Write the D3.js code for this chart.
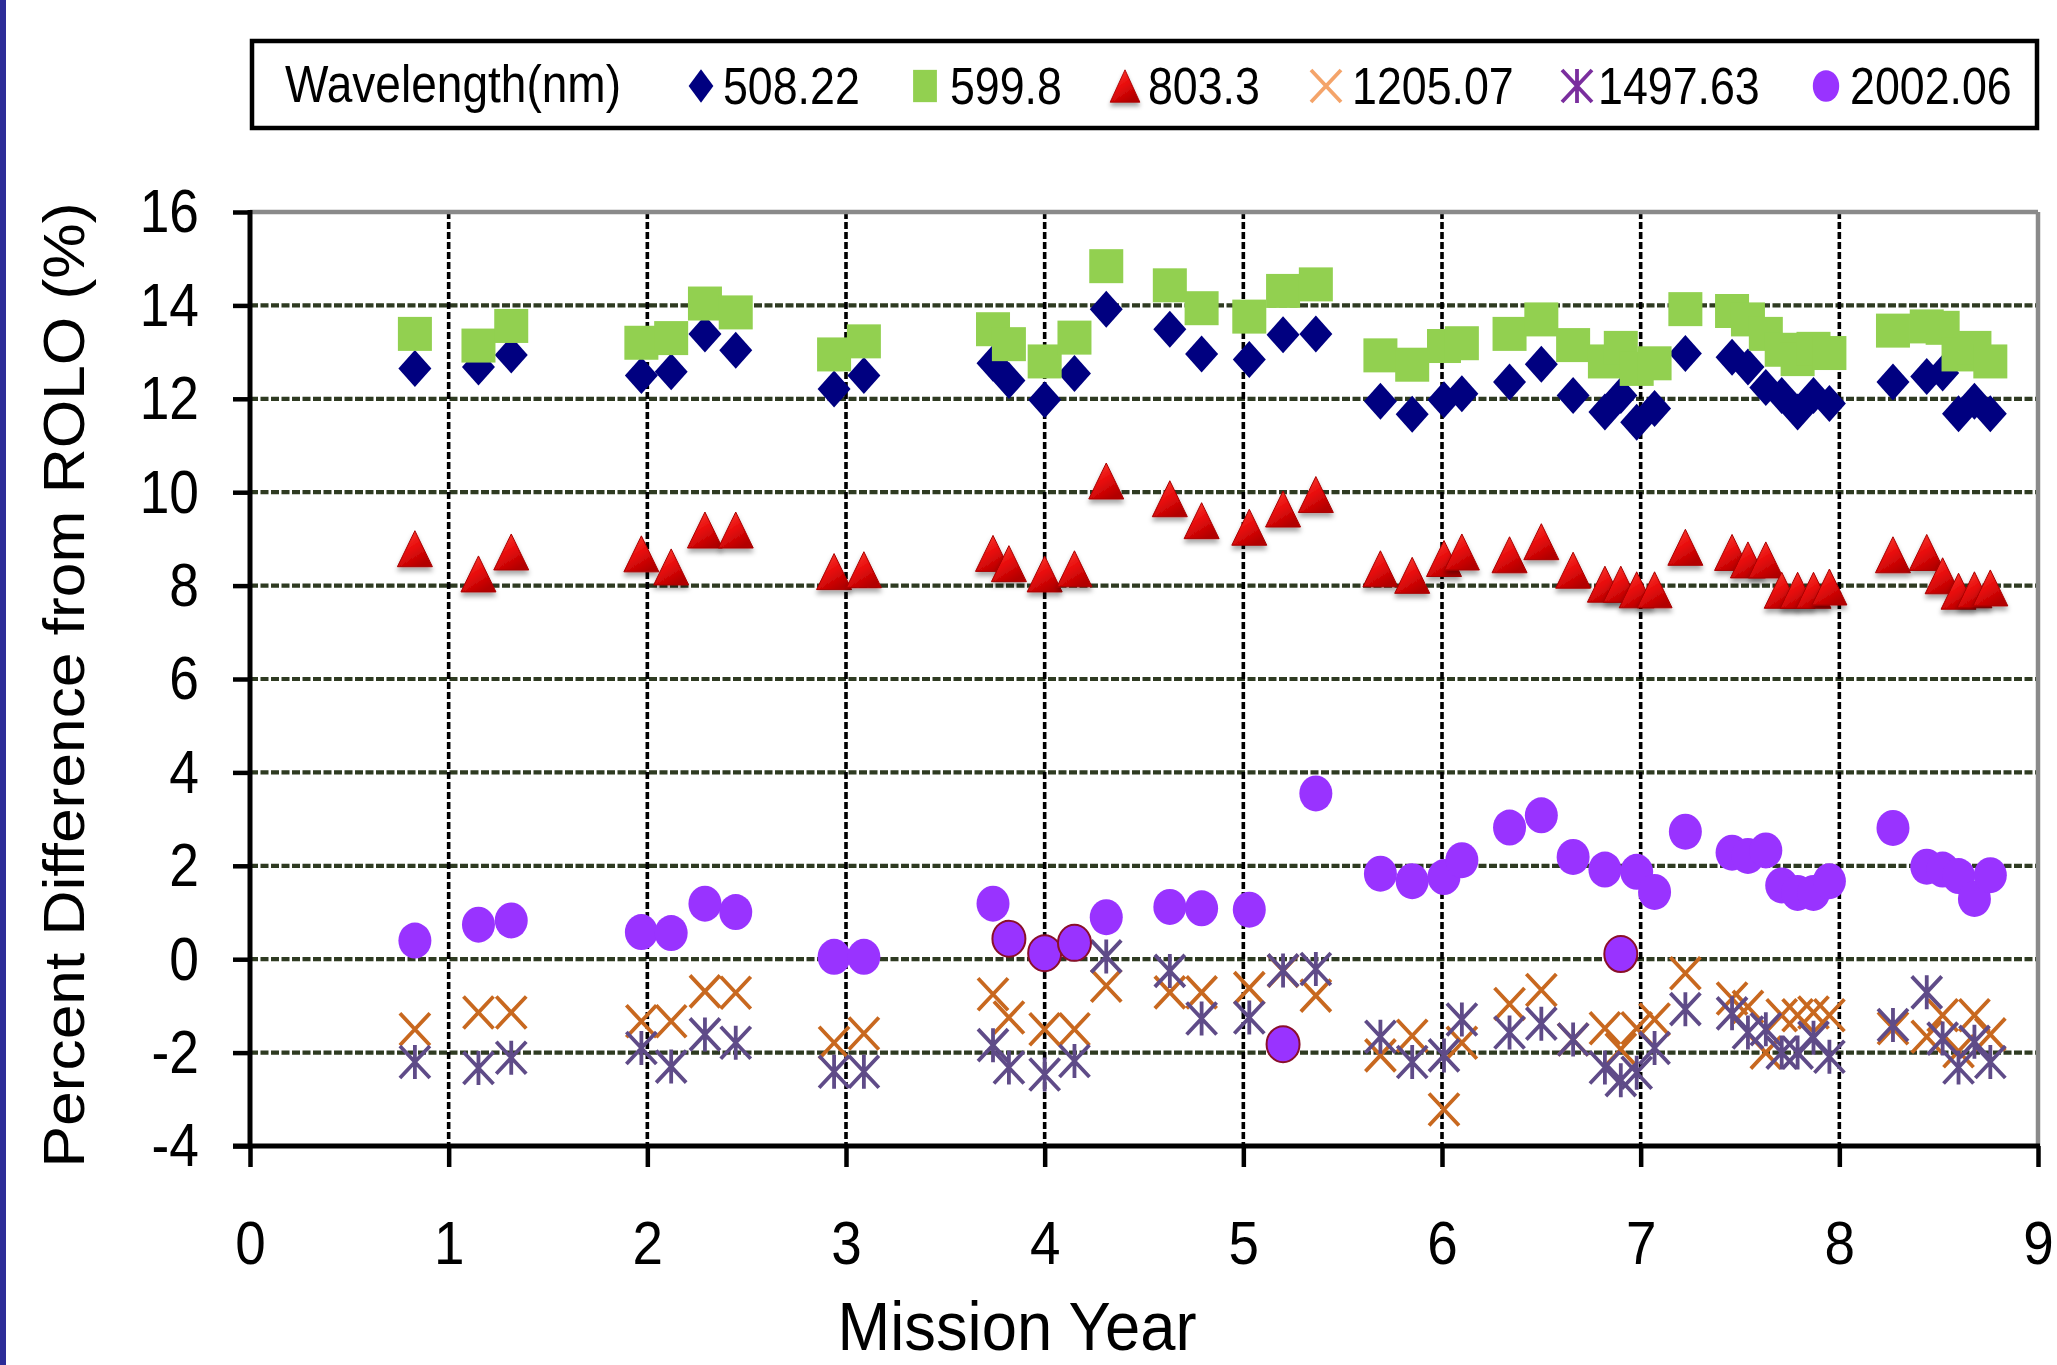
<!DOCTYPE html>
<html>
<head>
<meta charset="utf-8">
<script src="https://cdn.jsdelivr.net/npm/d3@7"></script>
<style>
  html, body { margin: 0; padding: 0; background: #ffffff; }
  svg { display: block; }
  text { font-family: "Liberation Sans", Arial, sans-serif; fill: #000; }
</style>
</head>
<body>
<svg id="chart" width="2057" height="1365"></svg>
<script>
// ---- data: percent difference from ROLO per lunar observation ----
const missionYear = [0.83, 1.15, 1.315, 1.97, 2.12, 2.29, 2.445, 2.94, 3.09, 3.74, 3.82, 4.0, 4.15, 4.31,
  4.63, 4.79, 5.03, 5.2, 5.365, 5.69, 5.85, 6.01, 6.10, 6.34, 6.50, 6.66, 6.82, 6.90, 6.98, 7.07,
  7.225, 7.46, 7.54, 7.63, 7.71, 7.79, 7.87, 7.95, 8.27, 8.44, 8.52, 8.60, 8.68, 8.76];

const band508 = [12.65, 12.68, 12.94, 12.50, 12.58, 13.39, 13.04, 12.21, 12.50, 12.76, 12.39, 11.98, 12.54, 13.92,
  13.49, 12.96, 12.84, 13.37, 13.39, 11.95, 11.67, 11.98, 12.11, 12.36, 12.74, 12.07, 11.72, 12.07, 11.50, 11.79,
  12.97, 12.89, 12.68, 12.24, 12.07, 11.72, 12.07, 11.90, 12.36, 12.48, 12.55, 11.68, 11.95, 11.68];

const band600 = [13.39, 13.14, 13.56, 13.20, 13.30, 14.04, 13.85, 12.95, 13.23, 13.49, 13.17, 12.80, 13.31, 14.84,
  14.43, 13.94, 13.76, 14.31, 14.45, 12.93, 12.73, 13.13, 13.19, 13.39, 13.70, 13.15, 12.80, 13.09, 12.64, 12.76,
  13.92, 13.88, 13.70, 13.39, 13.05, 12.85, 13.07, 12.98, 13.46, 13.55, 13.52, 12.95, 13.09, 12.80];

const band803 = [8.79, 8.25, 8.72, 8.68, 8.40, 9.19, 9.19, 8.30, 8.34, 8.69, 8.47, 8.25, 8.36, 10.24,
  9.86, 9.39, 9.25, 9.64, 9.95, 8.36, 8.22, 8.58, 8.72, 8.66, 8.94, 8.33, 8.03, 8.03, 7.91, 7.91,
  8.82, 8.71, 8.55, 8.55, 7.90, 7.90, 7.90, 7.97, 8.66, 8.71, 8.21, 7.88, 7.91, 7.95];

const band1205 = [-1.50, -1.14, -1.14, -1.33, -1.33, -0.69, -0.72, -1.79, -1.59, -0.75, -1.25, -1.50, -1.50, -0.57,
  -0.71, -0.71, -0.62, -0.25, -0.78, -2.06, -1.64, -3.22, -1.79, -0.96, -0.66, -1.72, -1.48, -1.93, -1.48, -1.29,
  -0.30, -0.84, -1.02, -2.00, -1.20, -1.20, -1.14, -1.20, -1.48, -1.66, -1.20, -1.97, -1.20, -1.61];

const band1498 = [-2.20, -2.33, -2.11, -1.90, -2.30, -1.61, -1.79, -2.41, -2.41, -1.84, -2.32, -2.47, -2.18, 0.06,
  -0.25, -1.27, -1.25, -0.24, -0.21, -1.66, -2.20, -2.06, -1.29, -1.57, -1.38, -1.72, -2.32, -2.59, -2.43, -1.90,
  -1.07, -1.16, -1.57, -1.50, -2.00, -2.00, -1.68, -2.09, -1.41, -0.71, -1.70, -2.32, -1.77, -2.20];

const band2002 = [0.40, 0.74, 0.83, 0.58, 0.56, 1.19, 1.01, 0.05, 0.05, 1.19, 0.44, 0.13, 0.35, 0.90,
  1.12, 1.09, 1.06, -1.82, 3.55, 1.83, 1.67, 1.76, 2.12, 2.82, 3.08, 2.19, 1.92, 0.11, 1.87, 1.44,
  2.73, 2.28, 2.21, 2.33, 1.58, 1.42, 1.42, 1.67, 2.81, 1.98, 1.92, 1.78, 1.29, 1.80];

// observations of the 2002.06 nm band drawn with an outline
const outlined2002Years = [3.82, 4.0, 4.15, 5.2, 6.90];

const wavelengthLabels = ["508.22", "599.8", "803.3", "1205.07", "1497.63", "2002.06"];
const legendTitle = "Wavelength(nm)";
const xTicks = [0, 1, 2, 3, 4, 5, 6, 7, 8, 9];
const yTicks = [-4, -2, 0, 2, 4, 6, 8, 10, 12, 14, 16];
const xTitle = "Mission Year";
const yTitle = "Percent Difference from ROLO (%)";

// ---- layout ----
const svg = d3.select("#chart");
const plot = { left: 250, right: 2038, top: 212, bottom: 1146 };
const x = d3.scaleLinear().domain([0, 9]).range([plot.left, plot.right]);
const y = d3.scaleLinear().domain([-4, 16]).range([plot.bottom, plot.top]);

const defs = svg.append("defs");
const triGrad = defs.append("linearGradient").attr("id", "triFill")
  .attr("x1", "0").attr("y1", "0").attr("x2", "0.6").attr("y2", "1");
triGrad.append("stop").attr("offset", "0").attr("stop-color", "#ff4a3a");
triGrad.append("stop").attr("offset", "0.55").attr("stop-color", "#e80c0c");
triGrad.append("stop").attr("offset", "1").attr("stop-color", "#b30000");
const shadow = defs.append("filter").attr("id", "triShadow")
  .attr("x", "-50%").attr("y", "-50%").attr("width", "200%").attr("height", "200%");
shadow.append("feDropShadow").attr("dx", 0).attr("dy", 4).attr("stdDeviation", 2.5)
  .attr("flood-color", "#000").attr("flood-opacity", 0.35);

// left page edge band
svg.append("rect").attr("x", 0).attr("y", 0).attr("width", 6).attr("height", 1365).attr("fill", "#2c2c98");

// squeeze helper: narrows a text element horizontally to a fraction of its natural width
function squeeze(sel, k) {
  sel.each(function () {
    const len = this.getComputedTextLength();
    this.setAttribute("textLength", (len * k).toFixed(1));
    this.setAttribute("lengthAdjust", "spacingAndGlyphs");
  });
}

// ---- gridlines ----
const grid = svg.append("g");
grid.selectAll("line.h").data(yTicks.filter(v => v > -4 && v < 16)).join("line")
  .attr("x1", plot.left).attr("x2", plot.right)
  .attr("y1", d => y(d)).attr("y2", d => y(d))
  .attr("stroke", "#2f3b22").attr("stroke-width", 4.2).attr("stroke-dasharray", "8,2.5");
grid.selectAll("line.v").data(xTicks.filter(v => v > 0 && v < 9)).join("line")
  .attr("x1", d => x(d)).attr("x2", d => x(d))
  .attr("y1", plot.top).attr("y2", plot.bottom)
  .attr("stroke", "#000").attr("stroke-width", 3.6).attr("stroke-dasharray", "7,3");

// plot frame: grey top/right, black axes
svg.append("line").attr("x1", plot.left).attr("x2", plot.right).attr("y1", plot.top).attr("y2", plot.top)
  .attr("stroke", "#8a8a8a").attr("stroke-width", 4.5);
svg.append("line").attr("x1", plot.right).attr("x2", plot.right).attr("y1", plot.top).attr("y2", plot.bottom)
  .attr("stroke", "#8a8a8a").attr("stroke-width", 4.5);

// ---- axes ----
const yAxis = svg.append("g").attr("transform", `translate(${plot.left},0)`)
  .call(d3.axisLeft(y).tickValues(yTicks).tickSize(17).tickPadding(34).tickFormat(d => String(d)));
yAxis.select(".domain").remove();
yAxis.selectAll(".tick line").attr("stroke", "#000").attr("stroke-width", 4.5);
yAxis.selectAll(".tick text").attr("font-size", 62).attr("font-family", "Liberation Sans, Arial, sans-serif")
  .attr("fill", "#000").call(squeeze, 0.86);

const xAxis = svg.append("g").attr("transform", `translate(0,${plot.bottom})`)
  .call(d3.axisBottom(x).tickValues(xTicks).tickSize(21).tickPadding(54).tickFormat(d => String(d)));
xAxis.select(".domain").remove();
xAxis.selectAll(".tick line").attr("stroke", "#000").attr("stroke-width", 4.5);
xAxis.selectAll(".tick text").attr("font-size", 61).attr("font-family", "Liberation Sans, Arial, sans-serif")
  .attr("fill", "#000").call(squeeze, 0.9);

svg.append("line").attr("x1", plot.left).attr("x2", plot.left).attr("y1", plot.top - 2).attr("y2", plot.bottom + 2)
  .attr("stroke", "#000").attr("stroke-width", 5);
svg.append("line").attr("x1", plot.left - 17).attr("x2", plot.right + 2).attr("y1", plot.bottom).attr("y2", plot.bottom)
  .attr("stroke", "#000").attr("stroke-width", 5);

// axis titles
svg.append("text").attr("x", (plot.left + plot.right) / 2 - 127).attr("y", 1350)
  .attr("text-anchor", "middle").attr("font-size", 68).text(xTitle)
  .attr("textLength", 359).attr("lengthAdjust", "spacingAndGlyphs");
svg.append("text")
  .attr("transform", "translate(84,685) rotate(-90) scale(1,0.92)")
  .attr("text-anchor", "middle").attr("font-size", 63).text(yTitle)
  .attr("textLength", 965).attr("lengthAdjust", "spacingAndGlyphs");

// ---- marker drawing ----
const MW = 33, MH = 37;
const markers = {
  diamond: (g, c) => g.append("path")
    .attr("d", `M0,${-MH / 2}L${MW / 2},0L0,${MH / 2}L${-MW / 2},0Z`).attr("fill", "#000080"),
  square: (g, c) => g.append("rect").attr("x", -17).attr("y", -17).attr("width", 34).attr("height", 34)
    .attr("fill", "#92d050"),
  triangle: (g, c) => g.append("path").attr("d", "M0,-18L17.5,18L-17.5,18Z")
    .attr("fill", "url(#triFill)").attr("stroke", "#a80000").attr("stroke-width", 1)
    .attr("stroke-linejoin", "round").attr("filter", "url(#triShadow)"),
  cross: (g, c) => g.append("path").attr("d", "M-15,-16L15,16M-15,16L15,-16")
    .attr("stroke", c || "#c8681f").attr("stroke-width", 3.8).attr("fill", "none"),
  asterisk: (g, c) => g.append("path").attr("d", "M-15,-16L15,16M-15,16L15,-16M0,-17L0,17")
    .attr("stroke", c || "#5f4b88").attr("stroke-width", 3.8).attr("fill", "none"),
  circle: (g, c, outlined) => g.append("ellipse").attr("rx", 16.5).attr("ry", 18)
    .attr("fill", "#9933ff").attr("stroke", outlined ? "#8a0f2a" : "none").attr("stroke-width", 2)
};

const series = [
  { name: wavelengthLabels[0], values: band508, marker: "diamond" },
  { name: wavelengthLabels[1], values: band600, marker: "square" },
  { name: wavelengthLabels[2], values: band803, marker: "triangle" },
  { name: wavelengthLabels[3], values: band1205, marker: "cross" },
  { name: wavelengthLabels[4], values: band1498, marker: "asterisk" },
  { name: wavelengthLabels[5], values: band2002, marker: "circle" }
];

const points = svg.append("g");
series.forEach(s => {
  const gs = points.append("g");
  s.values.forEach((v, i) => {
    const g = gs.append("g").attr("transform", `translate(${x(missionYear[i])},${y(v)})`);
    const outlined = s.marker === "circle" && outlined2002Years.includes(missionYear[i]);
    markers[s.marker](g, null, outlined);
  });
});

// ---- legend ----
const legend = svg.append("g");
legend.append("rect").attr("x", 252).attr("y", 41).attr("width", 1785).attr("height", 87)
  .attr("fill", "#fff").attr("stroke", "#000").attr("stroke-width", 4.5);
legend.append("text").attr("x", 285).attr("y", 102).attr("font-size", 51).text(legendTitle)
  .attr("textLength", 336).attr("lengthAdjust", "spacingAndGlyphs");
const legendMarkerX = [701, 925, 1125, 1326, 1577, 1826];
const legendTextX = [723, 950, 1148, 1352, 1598, 1850];
const legendColors = [null, null, null, "#f4a46a", "#7a2e9e", null];
series.forEach((s, i) => {
  const g = legend.append("g").attr("transform", `translate(${legendMarkerX[i]},86)`);
  markers[s.marker](g, legendColors[i], false);
  if (s.marker === "diamond") g.attr("transform", `translate(${legendMarkerX[i]},86) scale(0.75,0.9)`);
  if (s.marker === "square") g.attr("transform", `translate(${legendMarkerX[i]},86) scale(0.7,0.95)`);
  if (s.marker === "triangle") g.attr("transform", `translate(${legendMarkerX[i]},86) scale(0.85,0.9)`);
  if (s.marker === "circle") g.attr("transform", `translate(${legendMarkerX[i]},86) scale(0.8,0.88)`);
  const t = legend.append("text").attr("x", legendTextX[i]).attr("y", 104).attr("font-size", 52).text(s.name);
  squeeze(t, 0.86);
});
</script>
</body>
</html>
